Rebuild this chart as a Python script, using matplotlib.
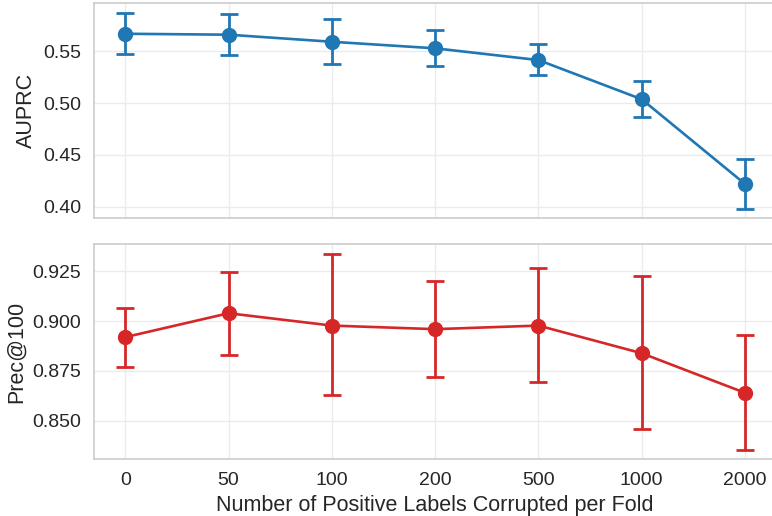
import matplotlib
matplotlib.use("Agg")
import matplotlib.pyplot as plt
import seaborn as sns
import numpy as np

categories = ["0", "50", "100", "200", "500", "1000", "2000"]
auprc_mean = [0.5666, 0.5657, 0.5589, 0.5526, 0.5413, 0.5036, 0.4221]
auprc_low = [0.5471, 0.5459, 0.5378, 0.5356, 0.5272, 0.4862, 0.3981]
auprc_high = [0.5868, 0.5859, 0.5808, 0.5705, 0.5564, 0.5212, 0.4464]
prec_mean = [0.8920, 0.9040, 0.8978, 0.8960, 0.8978, 0.8839, 0.8640]
prec_low = [0.8772, 0.8832, 0.8627, 0.8720, 0.8694, 0.8456, 0.8352]
prec_high = [0.9068, 0.9247, 0.9336, 0.9201, 0.9266, 0.9226, 0.8930]

sns.set_theme(style="whitegrid")
plt.rcParams['font.family'] = ['Liberation Sans', 'DejaVu Sans']

fig = plt.figure(figsize=(7.72, 5.16), dpi=100)
W, H = 772, 516
ax1 = fig.add_axes([94.3 / W, 1 - 218.3 / H, (776 - 94.3) / W, (218.3 - 3.3) / H])
ax2 = fig.add_axes([94.3 / W, 1 - 459.3 / H, (776 - 94.3) / W, (459.3 - 244) / H], sharex=ax1)

x = np.arange(len(categories))

def draw(ax, mean, low, high, color):
    mean = np.array(mean); low = np.array(low); high = np.array(high)
    yerr = np.vstack([mean - low, high - mean])
    ax.errorbar(x, mean, yerr=yerr, color=color, marker='o', markersize=10,
                linewidth=1.9, elinewidth=2.0, capsize=6.5, capthick=2.0)
    for s in ax.spines.values():
        s.set_color('#cccccc')
        s.set_linewidth(1.2)
    ax.grid(True, color='#ebebeb', linewidth=1.0)
    ax.tick_params(labelsize=14, colors='#262626')

draw(ax1, auprc_mean, auprc_low, auprc_high, '#1f77b4')
draw(ax2, prec_mean, prec_low, prec_high, '#d62728')

ax1.set_xlim(-0.3, 6.3)
ax1.set_ylim(0.3891, 0.5959)
ax1.set_yticks([0.40, 0.45, 0.50, 0.55])
ax1.set_yticklabels(["0.40", "0.45", "0.50", "0.55"])
ax2.set_ylim(0.8306, 0.9388)
ax2.set_yticks([0.850, 0.875, 0.900, 0.925])
ax2.set_yticklabels(["0.850", "0.875", "0.900", "0.925"])
ax2.set_xticks(x)
ax2.set_xticklabels(categories)
plt.setp(ax1.get_xticklabels(), visible=False)

ax1.set_ylabel("AUPRC", fontsize=15.5, color='#262626')
ax2.set_ylabel("Prec@100", fontsize=15.5, color='#262626')
ax2.set_xlabel("Number of Positive Labels Corrupted per Fold", fontsize=15.5, color='#262626')

fig.savefig("out.png", dpi=100)
